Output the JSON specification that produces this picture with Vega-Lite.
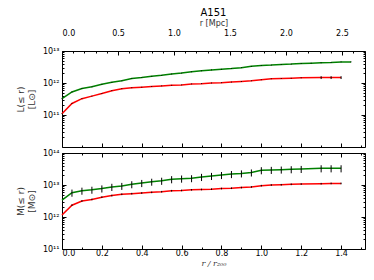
{
 "$schema": "https://vega.github.io/schema/vega-lite/v6.json",
 "padding": {"left": 15, "top": 7, "right": 8, "bottom": 4},
 "title": {"text": "A151", "fontSize": 10, "fontWeight": "normal", "font": "DejaVu Sans", "offset": 1, "color": "black", "anchor": "middle", "frame": "group"},
 "spacing": 0,
 "config": {
  "font": "DejaVu Sans",
  "view": {"stroke": "black", "strokeWidth": 1},
  "axis": {"grid": false, "domain": false, "labelFontSize": 8, "labelColor": "black", "tickColor": "black", "labelPadding": 7, "labelOverlap": false, "titleFontWeight": "normal", "titleFontSize": 9, "titleColor": "#333"}
 },
 "datasets": {
  "L": [
   {"s":"g","r":0,"v":3.24e11,"e":1e10},{"s":"g","r":0.05,"v":5.25e11,"e":1.6e10},{"s":"g","r":0.1,"v":6.76e11,"e":2e10},{"s":"g","r":0.15,"v":7.59e11,"e":2.3e10},{"s":"g","r":0.2,"v":9.12e11,"e":2.7e10},{"s":"g","r":0.25,"v":1.05e12,"e":3e10},{"s":"g","r":0.3,"v":1.17e12,"e":3.5e10},{"s":"g","r":0.35,"v":1.38e12,"e":4e10},{"s":"g","r":0.4,"v":1.48e12,"e":4.5e10},{"s":"g","r":0.45,"v":1.62e12,"e":5e10},{"s":"g","r":0.5,"v":1.74e12,"e":5e10},{"s":"g","r":0.55,"v":1.91e12,"e":6e10},{"s":"g","r":0.6,"v":2.04e12,"e":6e10},{"s":"g","r":0.65,"v":2.24e12,"e":7e10},{"s":"g","r":0.7,"v":2.4e12,"e":7e10},{"s":"g","r":0.75,"v":2.57e12,"e":8e10},{"s":"g","r":0.8,"v":2.69e12,"e":8e10},{"s":"g","r":0.85,"v":2.82e12,"e":8e10},{"s":"g","r":0.9,"v":3.02e12,"e":9e10},{"s":"g","r":0.95,"v":3.31e12,"e":1e11},{"s":"g","r":1.0,"v":3.55e12,"e":1e11},{"s":"g","r":1.05,"v":3.63e12,"e":1.1e11},{"s":"g","r":1.1,"v":3.8e12,"e":1.1e11},{"s":"g","r":1.15,"v":3.89e12,"e":1.2e11},{"s":"g","r":1.2,"v":4.07e12,"e":1.2e11},{"s":"g","r":1.25,"v":4.17e12,"e":1.3e11},{"s":"g","r":1.3,"v":4.27e12,"e":1.3e11},{"s":"g","r":1.35,"v":4.37e12,"e":1.3e11},{"s":"g","r":1.4,"v":4.57e12,"e":1.4e11},{"s":"g","r":1.45,"v":4.57e12,"e":1.4e11},
   {"s":"r","r":0,"v":1.1e11,"e":3e9},{"s":"r","r":0.05,"v":2.29e11,"e":7e9},{"s":"r","r":0.1,"v":3.24e11,"e":1e10},{"s":"r","r":0.15,"v":3.89e11,"e":1.2e10},{"s":"r","r":0.2,"v":4.68e11,"e":1.4e10},{"s":"r","r":0.25,"v":5.75e11,"e":1.7e10},{"s":"r","r":0.3,"v":6.61e11,"e":2e10},{"s":"r","r":0.35,"v":7.08e11,"e":2.1e10},{"s":"r","r":0.4,"v":7.41e11,"e":2.2e10},{"s":"r","r":0.45,"v":7.76e11,"e":2.3e10},{"s":"r","r":0.5,"v":8.13e11,"e":2.4e10},{"s":"r","r":0.55,"v":8.51e11,"e":2.5e10},{"s":"r","r":0.6,"v":8.71e11,"e":2.6e10},{"s":"r","r":0.65,"v":9.33e11,"e":2.8e10},{"s":"r","r":0.7,"v":9.55e11,"e":2.9e10},{"s":"r","r":0.75,"v":1.0e12,"e":3e10},{"s":"r","r":0.8,"v":1.02e12,"e":3e10},{"s":"r","r":0.85,"v":1.07e12,"e":3.2e10},{"s":"r","r":0.9,"v":1.12e12,"e":3.4e10},{"s":"r","r":0.95,"v":1.17e12,"e":3.5e10},{"s":"r","r":1.0,"v":1.26e12,"e":3.8e10},{"s":"r","r":1.05,"v":1.35e12,"e":4e10},{"s":"r","r":1.1,"v":1.38e12,"e":4e10},{"s":"r","r":1.15,"v":1.41e12,"e":4.2e10},{"s":"r","r":1.2,"v":1.45e12,"e":4.5e10},{"s":"r","r":1.3,"v":1.48e12,"e":1.5e11},{"s":"r","r":1.35,"v":1.48e12,"e":1.5e11},{"s":"r","r":1.4,"v":1.48e12,"e":1.5e11}
  ],
  "M": [
   {"s":"g","r":0,"v":3.39e12,"e":0},{"s":"g","r":0.05,"v":5.75e12,"e":1.45e12},{"s":"g","r":0.1,"v":6.61e12,"e":1.65e12},{"s":"g","r":0.15,"v":7.08e12,"e":1.75e12},{"s":"g","r":0.2,"v":7.76e12,"e":1.95e12},{"s":"g","r":0.25,"v":8.71e12,"e":2.2e12},{"s":"g","r":0.3,"v":9.33e12,"e":2.3e12},{"s":"g","r":0.35,"v":1.05e13,"e":2.6e12},{"s":"g","r":0.4,"v":1.15e13,"e":2.9e12},{"s":"g","r":0.45,"v":1.26e13,"e":3.1e12},{"s":"g","r":0.5,"v":1.35e13,"e":3.4e12},{"s":"g","r":0.55,"v":1.51e13,"e":3.8e12},{"s":"g","r":0.6,"v":1.58e13,"e":4e12},{"s":"g","r":0.65,"v":1.62e13,"e":4e12},{"s":"g","r":0.7,"v":1.78e13,"e":4.5e12},{"s":"g","r":0.75,"v":1.91e13,"e":4.8e12},{"s":"g","r":0.8,"v":2.04e13,"e":5.1e12},{"s":"g","r":0.85,"v":2.19e13,"e":5.5e12},{"s":"g","r":0.9,"v":2.29e13,"e":5.7e12},{"s":"g","r":0.95,"v":2.45e13,"e":6.1e12},{"s":"g","r":1.0,"v":2.88e13,"e":7.2e12},{"s":"g","r":1.05,"v":2.95e13,"e":7.4e12},{"s":"g","r":1.1,"v":3.02e13,"e":7.5e12},{"s":"g","r":1.15,"v":3.09e13,"e":7.7e12},{"s":"g","r":1.2,"v":3.16e13,"e":7.9e12},{"s":"g","r":1.3,"v":3.31e13,"e":8.3e12},{"s":"g","r":1.35,"v":3.31e13,"e":8.3e12},{"s":"g","r":1.4,"v":3.31e13,"e":8.3e12},
   {"s":"r","r":0,"v":1.15e12,"e":0},{"s":"r","r":0.05,"v":2.34e12,"e":1.4e11},{"s":"r","r":0.1,"v":3.16e12,"e":1.9e11},{"s":"r","r":0.15,"v":3.55e12,"e":2.1e11},{"s":"r","r":0.2,"v":4.17e12,"e":2.5e11},{"s":"r","r":0.25,"v":4.68e12,"e":2.8e11},{"s":"r","r":0.3,"v":5.13e12,"e":3.1e11},{"s":"r","r":0.35,"v":5.37e12,"e":3.2e11},{"s":"r","r":0.4,"v":5.62e12,"e":3.4e11},{"s":"r","r":0.45,"v":5.89e12,"e":3.5e11},{"s":"r","r":0.5,"v":6.17e12,"e":3.7e11},{"s":"r","r":0.55,"v":6.61e12,"e":4e11},{"s":"r","r":0.6,"v":6.76e12,"e":4e11},{"s":"r","r":0.65,"v":7.08e12,"e":4.2e11},{"s":"r","r":0.7,"v":7.24e12,"e":4.3e11},{"s":"r","r":0.75,"v":7.41e12,"e":4.4e11},{"s":"r","r":0.8,"v":7.76e12,"e":4.7e11},{"s":"r","r":0.85,"v":7.94e12,"e":4.8e11},{"s":"r","r":0.9,"v":8.32e12,"e":5e11},{"s":"r","r":0.95,"v":8.71e12,"e":5.2e11},{"s":"r","r":1.0,"v":9.55e12,"e":5.7e11},{"s":"r","r":1.05,"v":1.0e13,"e":6e11},{"s":"r","r":1.1,"v":1.02e13,"e":6e11},{"s":"r","r":1.15,"v":1.05e13,"e":6.3e11},{"s":"r","r":1.2,"v":1.07e13,"e":6.4e11},{"s":"r","r":1.3,"v":1.1e13,"e":6.6e11},{"s":"r","r":1.35,"v":1.12e13,"e":6.7e11},{"s":"r","r":1.4,"v":1.12e13,"e":6.7e11}
  ]
 },
 "vconcat": [
  {
   "width": 303, "height": 96,
   "layer": [
    {
     "data": {"name": "L"},
     "layer": [
      {"mark": {"type": "line", "strokeWidth": 1.5},
       "encoding": {
        "x": {"field": "r", "type": "quantitative", "scale": {"domain": [0, 1.52], "nice": false, "zero": false}, "axis": {"values": [0,0.1,0.2,0.3,0.4,0.5,0.6,0.7,0.8,0.9,1.0,1.1,1.2,1.3,1.4,1.5], "labels": false, "title": null, "tickSize": {"condition": {"test": "abs(datum.value*5 - round(datum.value*5)) < 0.01", "value": -4}, "value": -2}}},
        "y": {"field": "v", "type": "quantitative", "scale": {"type": "log", "domain": [1e10, 1e13], "nice": false}, "axis": {"values": [2e10,3e10,4e10,5e10,6e10,7e10,8e10,9e10,1e11,2e11,3e11,4e11,5e11,6e11,7e11,8e11,9e11,1e12,2e12,3e12,4e12,5e12,6e12,7e12,8e12,9e12,1e13], "labelExpr": "datum.value == 1e13 ? '10¹³' : datum.value == 1e12 ? '10¹²' : datum.value == 1e11 ? '10¹¹' : ''", "tickSize": {"condition": {"test": "abs(log(datum.value)/LN10 - round(log(datum.value)/LN10)) < 0.001", "value": -4}, "value": -2}, "title": ["L(≤ r)", "[L⊙]"], "titleX": -37, "titleBaseline": "bottom"}},
        "color": {"field": "s", "type": "nominal", "scale": {"domain": ["g", "r"], "range": ["#008000", "#ff0000"]}, "legend": null}
       }},
      {"mark": {"type": "errorbar", "color": "black", "thickness": 1},
       "encoding": {
        "x": {"field": "r", "type": "quantitative", "axis": {"values": [0,0.1,0.2,0.3,0.4,0.5,0.6,0.7,0.8,0.9,1.0,1.1,1.2,1.3,1.4,1.5], "labels": false, "title": null, "tickSize": {"condition": {"test": "abs(datum.value*5 - round(datum.value*5)) < 0.01", "value": -4}, "value": -2}}},
        "y": {"field": "v", "type": "quantitative", "axis": {"orient": "right", "labels": false, "title": null, "values": [2e10,3e10,4e10,5e10,6e10,7e10,8e10,9e10,1e11,2e11,3e11,4e11,5e11,6e11,7e11,8e11,9e11,1e12,2e12,3e12,4e12,5e12,6e12,7e12,8e12,9e12,1e13], "tickSize": {"condition": {"test": "abs(log(datum.value)/LN10 - round(log(datum.value)/LN10)) < 0.001", "value": -4}, "value": -2}}},
        "yError": {"field": "e"}}}
     ],
     "resolve": {"axis": {"y": "independent"}}
    },
    {
     "data": {"values": [{"m": 0}, {"m": 2.706}]},
     "mark": {"type": "point", "opacity": 0},
     "encoding": {"x": {"field": "m", "type": "quantitative", "scale": {"domain": [0, 2.706], "nice": false, "zero": false}, "axis": {"orient": "top", "values": [0,0.1,0.2,0.3,0.4,0.5,0.6,0.7,0.8,0.9,1.0,1.1,1.2,1.3,1.4,1.5,1.6,1.7,1.8,1.9,2.0,2.1,2.2,2.3,2.4,2.5,2.6,2.7], "labelExpr": "abs(datum.value*2 - round(datum.value*2)) < 0.01 ? format(datum.value, '.1f') : ''", "tickSize": {"condition": {"test": "abs(datum.value*2 - round(datum.value*2)) < 0.01", "value": -4}, "value": -2}, "labelPadding": 18, "title": "r [Mpc]", "titleFontSize": 8, "titlePadding": 0}}}
    }
   ],
   "resolve": {"scale": {"x": "independent"}, "axis": {"x": "independent"}}
  },
  {
   "width": 303, "height": 96,
   "data": {"name": "M"},
   "layer": [
    {"mark": {"type": "line", "strokeWidth": 1.5},
     "encoding": {
      "x": {"field": "r", "type": "quantitative", "scale": {"domain": [0, 1.52], "nice": false, "zero": false}, "axis": {"values": [0,0.1,0.2,0.3,0.4,0.5,0.6,0.7,0.8,0.9,1.0,1.1,1.2,1.3,1.4,1.5], "labelExpr": "abs(datum.value*5 - round(datum.value*5)) < 0.01 ? format(datum.value, '.1f') : ''", "tickSize": {"condition": {"test": "abs(datum.value*5 - round(datum.value*5)) < 0.01", "value": -4}, "value": -2}, "labelPadding": 4, "title": "r / r₂₀₀", "titleFont": "DejaVu Serif", "titleFontStyle": "italic", "titleFontSize": 8, "titlePadding": 0}},
      "y": {"field": "v", "type": "quantitative", "scale": {"type": "log", "domain": [1e11, 1e14], "nice": false}, "axis": {"values": [1e11,2e11,3e11,4e11,5e11,6e11,7e11,8e11,9e11,1e12,2e12,3e12,4e12,5e12,6e12,7e12,8e12,9e12,1e13,2e13,3e13,4e13,5e13,6e13,7e13,8e13,9e13,1e14], "labelExpr": "datum.value == 1e14 ? '10¹⁴' : datum.value == 1e13 ? '10¹³' : datum.value == 1e12 ? '10¹²' : datum.value == 1e11 ? '10¹¹' : ''", "tickSize": {"condition": {"test": "abs(log(datum.value)/LN10 - round(log(datum.value)/LN10)) < 0.001", "value": -4}, "value": -2}, "title": ["M(≤ r)", "[M⊙]"], "titleX": -37, "titleBaseline": "bottom"}},
      "color": {"field": "s", "type": "nominal", "scale": {"domain": ["g", "r"], "range": ["#008000", "#ff0000"]}, "legend": null}
     }},
    {"mark": {"type": "errorbar", "color": "black", "thickness": 1},
     "encoding": {
      "x": {"field": "r", "type": "quantitative", "axis": {"orient": "top", "values": [0,0.1,0.2,0.3,0.4,0.5,0.6,0.7,0.8,0.9,1.0,1.1,1.2,1.3,1.4,1.5], "labels": false, "title": null, "tickSize": {"condition": {"test": "abs(datum.value*5 - round(datum.value*5)) < 0.01", "value": -4}, "value": -2}}},
      "y": {"field": "v", "type": "quantitative", "axis": {"orient": "right", "labels": false, "title": null, "values": [1e11,2e11,3e11,4e11,5e11,6e11,7e11,8e11,9e11,1e12,2e12,3e12,4e12,5e12,6e12,7e12,8e12,9e12,1e13,2e13,3e13,4e13,5e13,6e13,7e13,8e13,9e13,1e14], "tickSize": {"condition": {"test": "abs(log(datum.value)/LN10 - round(log(datum.value)/LN10)) < 0.001", "value": -4}, "value": -2}}},
      "yError": {"field": "e"}}}
   ],
   "resolve": {"axis": {"x": "independent", "y": "independent"}}
  }
 ]
}
